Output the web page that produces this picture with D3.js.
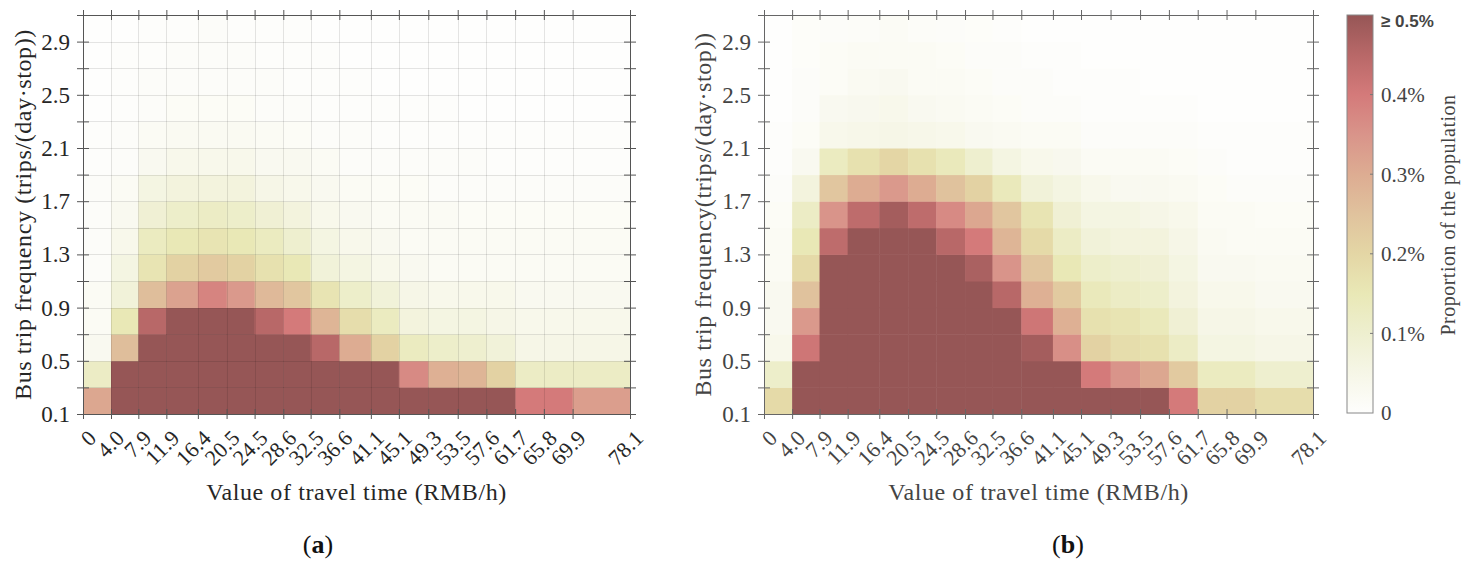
<!DOCTYPE html>
<html>
<head>
<meta charset="utf-8">
<script src="https://cdn.jsdelivr.net/npm/d3@7"></script>
<style>
html,body{margin:0;padding:0;background:#fff;}
svg{display:block;}
text{font-family:"Liberation Serif","Times New Roman",serif;}
</style>
</head>
<body>
<svg id="chart" width="1470" height="566"></svg>
<script>
// x bin edges (Value of travel time, RMB/h)
const xEdges = [0, 4.0, 7.9, 11.9, 16.4, 20.5, 24.5, 28.6, 32.5, 36.6, 41.1, 45.1, 49.3, 53.5, 57.6, 61.7, 65.8, 69.9, 78.1];
const xTickLabels = ["0","4.0","7.9","11.9","16.4","20.5","24.5","28.6","32.5","36.6","41.1","45.1","49.3","53.5","57.6","61.7","65.8","69.9","78.1"];
// y bin edges (Bus trip frequency)
const yEdges = [0.1,0.3,0.5,0.7,0.9,1.1,1.3,1.5,1.7,1.9,2.1,2.3,2.5,2.7,2.9,3.1];
const yTickLabels = ["0.1","0.5","0.9","1.3","1.7","2.1","2.5","2.9"];
const cbTicks = [0, 0.1, 0.2, 0.3, 0.4, 0.5];
const cbTickLabels = ["0","0.1%","0.2%","0.3%","0.4%","\u2265 0.5%"];

// Proportion of the population (%), rows from bottom (0.1-0.3) to top (2.9-3.1)
const valuesA = [
 [0.31,0.5,0.5,0.5,0.5,0.5,0.5,0.5,0.5,0.5,0.5,0.5,0.5,0.5,0.5,0.40,0.40,0.33],
 [0.12,0.5,0.5,0.5,0.5,0.5,0.5,0.5,0.5,0.5,0.5,0.37,0.29,0.28,0.21,0.12,0.12,0.12],
 [0.03,0.26,0.5,0.5,0.5,0.5,0.5,0.5,0.45,0.30,0.21,0.13,0.11,0.10,0.08,0.05,0.05,0.05],
 [0.02,0.15,0.45,0.5,0.5,0.5,0.45,0.40,0.28,0.18,0.13,0.07,0.06,0.06,0.05,0.04,0.04,0.04],
 [0.02,0.08,0.26,0.32,0.38,0.34,0.27,0.24,0.16,0.11,0.08,0.05,0.04,0.04,0.04,0.03,0.03,0.03],
 [0.01,0.06,0.16,0.21,0.23,0.21,0.17,0.15,0.08,0.06,0.04,0.03,0.02,0.02,0.02,0.02,0.02,0.02],
 [0.01,0.04,0.13,0.15,0.16,0.15,0.13,0.10,0.06,0.04,0.03,0.02,0.02,0.02,0.02,0.02,0.02,0.02],
 [0.01,0.03,0.09,0.11,0.12,0.11,0.09,0.07,0.04,0.03,0.02,0.02,0.02,0.015,0.015,0.015,0.015,0.015],
 [0.01,0.02,0.06,0.07,0.07,0.07,0.05,0.04,0.03,0.02,0.015,0.015,0.01,0.01,0.01,0.01,0.01,0.01],
 [0.005,0.01,0.03,0.04,0.04,0.04,0.03,0.03,0.02,0.01,0.01,0.01,0.01,0.01,0.005,0.005,0.005,0.005],
 [0.005,0.01,0.02,0.025,0.025,0.025,0.02,0.015,0.01,0.01,0.005,0.005,0.005,0.005,0.005,0.005,0.005,0.005],
 [0.0,0.005,0.01,0.015,0.015,0.015,0.01,0.01,0.005,0.005,0.005,0.005,0.005,0.0,0.0,0.0,0.0,0.0],
 [0.0,0.005,0.01,0.01,0.01,0.01,0.01,0.005,0.005,0.005,0.0,0.0,0.0,0.0,0.0,0.0,0.0,0.0],
 [0.0,0.005,0.005,0.01,0.01,0.01,0.005,0.005,0.005,0.0,0.0,0.0,0.0,0.0,0.0,0.0,0.0,0.0],
 [0.0,0.0,0.005,0.005,0.01,0.005,0.005,0.005,0.0,0.0,0.0,0.0,0.0,0.0,0.0,0.0,0.0,0.0]
];
const valuesB = [
 [0.19,0.5,0.5,0.5,0.5,0.5,0.5,0.5,0.5,0.5,0.5,0.5,0.5,0.5,0.40,0.21,0.21,0.18],
 [0.11,0.5,0.5,0.5,0.5,0.5,0.5,0.5,0.5,0.5,0.5,0.40,0.35,0.31,0.23,0.13,0.13,0.10],
 [0.04,0.41,0.5,0.5,0.5,0.5,0.5,0.5,0.5,0.48,0.36,0.21,0.18,0.17,0.12,0.06,0.06,0.05],
 [0.03,0.34,0.5,0.5,0.5,0.5,0.5,0.5,0.5,0.41,0.29,0.17,0.16,0.14,0.09,0.05,0.05,0.04],
 [0.03,0.25,0.5,0.5,0.5,0.5,0.5,0.5,0.45,0.29,0.23,0.14,0.12,0.11,0.07,0.04,0.04,0.03],
 [0.02,0.19,0.5,0.5,0.5,0.5,0.5,0.47,0.35,0.24,0.15,0.11,0.10,0.09,0.06,0.03,0.03,0.025],
 [0.02,0.15,0.44,0.5,0.5,0.5,0.45,0.40,0.28,0.19,0.12,0.08,0.07,0.07,0.05,0.025,0.02,0.02],
 [0.015,0.12,0.35,0.44,0.48,0.44,0.37,0.31,0.24,0.16,0.09,0.06,0.06,0.05,0.04,0.02,0.02,0.015],
 [0.01,0.07,0.24,0.30,0.34,0.30,0.25,0.21,0.14,0.08,0.06,0.04,0.03,0.03,0.025,0.015,0.01,0.01],
 [0.005,0.03,0.13,0.17,0.20,0.17,0.14,0.10,0.06,0.04,0.035,0.02,0.02,0.02,0.015,0.01,0.005,0.005],
 [0.005,0.015,0.04,0.045,0.05,0.045,0.04,0.03,0.025,0.02,0.02,0.01,0.01,0.01,0.01,0.005,0.005,0.005],
 [0.0,0.01,0.03,0.035,0.04,0.03,0.025,0.02,0.015,0.01,0.01,0.005,0.005,0.005,0.005,0.0,0.0,0.0],
 [0.0,0.01,0.015,0.025,0.03,0.02,0.02,0.015,0.01,0.01,0.005,0.005,0.005,0.0,0.0,0.0,0.0,0.0],
 [0.0,0.008,0.015,0.02,0.02,0.02,0.015,0.01,0.01,0.005,0.005,0.0,0.0,0.0,0.0,0.0,0.0,0.0],
 [0.0,0.008,0.01,0.012,0.018,0.012,0.01,0.008,0.005,0.0,0.0,0.0,0.0,0.0,0.0,0.0,0.0,0.0]
];

// colour map
const cmapStops = [0, 0.05, 0.1, 0.15, 0.2, 0.25, 0.3, 0.35, 0.4, 0.45, 0.5];
const cmapColors = ["#fefefd","#f6f6e7","#eeefcf","#e9e8b6","#e4d6a5","#e0c29d","#ddac92","#d9948a","#d47a7a","#b86868","#965656"];
const color = d3.scaleLinear().domain(cmapStops).range(cmapColors).clamp(true).interpolate(d3.interpolateRgb);

const svg = d3.select("#chart");
const plotTop = 15, plotBottom = 414;

function drawPanel(opts) {
  const g = svg.append("g");
  const x = d3.scaleLinear().domain([xEdges[0], xEdges[xEdges.length-1]]).range([opts.left, opts.right]);
  const y = d3.scaleLinear().domain([yEdges[0], yEdges[yEdges.length-1]]).range([plotBottom, plotTop]);
  const cells = [];
  opts.values.forEach((row, r) => row.forEach((v, c) => cells.push({r, c, v})));
  g.append("g").selectAll("rect").data(cells).join("rect")
    .attr("x", d => x(xEdges[d.c]))
    .attr("width", d => x(xEdges[d.c+1]) - x(xEdges[d.c]) + 0.5)
    .attr("y", d => y(yEdges[d.r+1]))
    .attr("height", d => y(yEdges[d.r]) - y(yEdges[d.r+1]) + 0.5)
    .attr("fill", d => color(d.v));

  if (opts.grid) {
    const gg = g.append("g").attr("stroke", "rgba(0,0,0,0.10)").attr("stroke-width", 1);
    xEdges.slice(1, -1).forEach(v => gg.append("line")
      .attr("x1", Math.round(x(v))+0.5).attr("x2", Math.round(x(v))+0.5).attr("y1", plotTop).attr("y2", plotBottom));
    yEdges.slice(1, -1).forEach(v => gg.append("line")
      .attr("y1", Math.round(y(v))+0.5).attr("y2", Math.round(y(v))+0.5).attr("x1", opts.left).attr("x2", opts.right));
  }

  const axCol = opts.axisColor;
  const bAx = g.append("g").attr("transform", `translate(0,${plotBottom})`)
    .call(d3.axisBottom(x).tickValues(xEdges).tickSizeInner(5).tickSizeOuter(0).tickFormat(""));
  const tAx = g.append("g").attr("transform", `translate(0,${plotTop})`)
    .call(d3.axisTop(x).tickValues(xEdges).tickSizeInner(5).tickSizeOuter(0).tickFormat(""));
  const lAx = g.append("g").attr("transform", `translate(${opts.left},0)`)
    .call(d3.axisLeft(y).tickValues(yEdges).tickSizeInner(6).tickSizeOuter(0).tickFormat(""));
  const rAx = g.append("g").attr("transform", `translate(${opts.right},0)`)
    .call(d3.axisRight(y).tickValues(yEdges).tickSizeInner(6).tickSizeOuter(0).tickFormat(""));
  [bAx, tAx, lAx, rAx].forEach(a => {
    a.select(".domain").attr("stroke", axCol);
    a.selectAll(".tick line").attr("stroke", axCol);
  });
  bAx.selectAll(".tick line").attr("y1", -5);
  tAx.selectAll(".tick line").attr("y1", 5);
  lAx.selectAll(".tick line").attr("x1", 6);
  rAx.selectAll(".tick line").attr("x1", -6);

  yTickLabels.forEach(t => {
    g.append("text").attr("x", opts.left - 13).attr("y", y(+t)).attr("dy", "0.35em")
      .attr("text-anchor", "end").attr("font-size", 23).attr("fill", opts.textColor).text(t);
  });
  xEdges.forEach((v, i) => {
    g.append("text")
      .attr("transform", `translate(${x(v)+9},${plotBottom+20}) rotate(-45)`)
      .attr("text-anchor", "end").attr("dy", "0.35em")
      .attr("font-size", 22).attr("fill", opts.textColor).text(xTickLabels[i]);
  });
  g.append("text").attr("x", (opts.left + opts.right)/2).attr("y", 500)
    .attr("text-anchor", "middle").attr("font-size", 24).attr("letter-spacing", "0.6px")
    .attr("fill", opts.textColor).text("Value of travel time (RMB/h)");
  g.append("text").attr("transform", `translate(${opts.ylabelX},${(plotTop+plotBottom)/2}) rotate(-90)`)
    .attr("text-anchor", "middle").attr("dy", "0.35em").attr("font-size", 24).attr("letter-spacing", "0.6px")
    .attr("fill", opts.textColor).text(opts.ylabel);
  const pl = g.append("text").attr("x", opts.panelX).attr("y", 553).attr("text-anchor", "middle")
    .attr("font-size", 26).attr("fill", "#111");
  pl.append("tspan").text("(");
  pl.append("tspan").attr("font-weight", "bold").text(opts.panel);
  pl.append("tspan").text(")");
  return {x, y};
}

drawPanel({left: 83, right: 630, values: valuesA, grid: true, axisColor: "#555", textColor: "#262626",
  ylabel: "Bus trip frequency (trips/(day\u00b7stop))", ylabelX: 23, panel: "a", panelX: 318});
drawPanel({left: 764, right: 1313, values: valuesB, grid: false, axisColor: "#666", textColor: "#444",
  ylabel: "Bus trip frequency(trips/(day\u00b7stop))", ylabelX: 703, panel: "b", panelX: 1068});

// colour bar
const cbX = 1347, cbW = 26, cbTop = 15, cbBottom = 413;
const cbScale = d3.scaleLinear().domain([0, 0.5]).range([cbBottom, cbTop]);
const defs = svg.append("defs");
const grad = defs.append("linearGradient").attr("id", "cbgrad").attr("x1", 0).attr("y1", 1).attr("x2", 0).attr("y2", 0);
cmapStops.forEach((s, i) => grad.append("stop").attr("offset", s / 0.5).attr("stop-color", cmapColors[i]));
svg.append("rect").attr("x", cbX).attr("y", cbTop).attr("width", cbW).attr("height", cbBottom - cbTop)
  .attr("fill", "url(#cbgrad)").attr("stroke", "#888").attr("stroke-width", 1);
cbTicks.forEach((t, i) => {
  if (i > 0 && i < cbTicks.length - 1) {
    svg.append("line").attr("x1", cbX + cbW - 3).attr("x2", cbX + cbW).attr("y1", cbScale(t)).attr("y2", cbScale(t))
      .attr("stroke", "#777");
  }
  const last = i === cbTicks.length - 1;
  svg.append("text").attr("x", 1381).attr("y", last ? 27 : cbScale(t)).attr("dy", last ? 0 : "0.35em")
    .attr("font-size", last ? 17 : 21)
    .attr("font-weight", last ? "bold" : "normal")
    .style("font-family", last ? "'Liberation Sans Narrow','Liberation Sans',sans-serif" : null)
    .attr("fill", "#444").text(cbTickLabels[i]);
});
svg.append("text").attr("transform", `translate(1448,215) rotate(-90)`)
  .attr("text-anchor", "middle").attr("dy", "0.35em").attr("font-size", 20).attr("letter-spacing", "0.5px")
  .attr("fill", "#444").text("Proportion of the population");
</script>
</body>
</html>
